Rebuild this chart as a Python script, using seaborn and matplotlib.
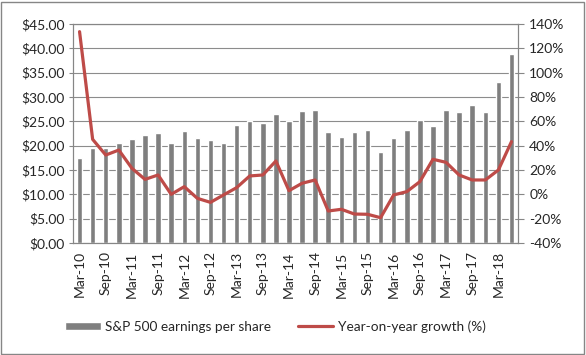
import numpy as np
import pandas as pd
import matplotlib
matplotlib.use("Agg")
import matplotlib.pyplot as plt
from matplotlib.patches import Rectangle
from matplotlib.ticker import FuncFormatter, FixedLocator
import seaborn as sns

quarters = [
    "Mar-10", "Jun-10", "Sep-10", "Dec-10",
    "Mar-11", "Jun-11", "Sep-11", "Dec-11",
    "Mar-12", "Jun-12", "Sep-12", "Dec-12",
    "Mar-13", "Jun-13", "Sep-13", "Dec-13",
    "Mar-14", "Jun-14", "Sep-14", "Dec-14",
    "Mar-15", "Jun-15", "Sep-15", "Dec-15",
    "Mar-16", "Jun-16", "Sep-16", "Dec-16",
    "Mar-17", "Jun-17", "Sep-17", "Dec-17",
    "Mar-18", "Jun-18",
]
eps = [
    17.5, 19.6, 19.6, 20.6, 21.4, 22.2, 22.7, 20.6,
    23.1, 21.6, 21.2, 20.6, 24.3, 25.0, 24.7, 26.6,
    25.0, 27.2, 27.4, 22.9, 21.8, 22.9, 23.3, 18.8,
    21.6, 23.3, 25.3, 24.1, 27.4, 27.0, 28.4, 27.0,
    33.1, 38.9,
]
growth = [
    133.7, 45.2, 32.3, 36.4, 21.4, 12.3, 15.9, 0.0,
    6.3, -3.3, -6.6, -0.5, 5.5, 15.1, 15.9, 27.4,
    3.0, 9.1, 11.8, -13.7, -12.3, -16.2, -16.4, -19.2,
    -0.5, 2.2, 10.4, 28.8, 26.3, 15.9, 11.8, 11.8,
    20.0, 43.3,
]

df = pd.DataFrame({"quarter": quarters, "eps": eps, "growth": growth})
df["pos"] = range(len(df))

sns.set_style("white")
plt.rcParams["font.family"] = ["Lato", "DejaVu Sans"]

grey = "#7f7f7f"
red = "#be4b48"
axis_col = "#868686"

fig = plt.figure(figsize=(5.86, 3.55), dpi=100)
ax = fig.add_axes([0.1246, 0.3155, 0.7594, 0.6169])

sns.barplot(data=df, x="quarter", y="eps", color=grey, width=0.42,
            saturation=1, ax=ax, label="S&P 500 earnings per share")
if ax.get_legend() is not None:
    ax.get_legend().remove()
ax.set_xlim(-0.5, len(df) - 0.5)
ax.set_ylim(0, 45)
ax.set_yticks(np.arange(0, 46, 5))
ax.yaxis.set_major_formatter(FuncFormatter(lambda v, p: f"${v:.2f}"))
ax.grid(axis="y", color="#8c8c8c", linewidth=0.8)
ax.set_axisbelow(True)
ax.set_xlabel("")
ax.set_ylabel("")

label_pos = list(range(0, len(df), 2))
ax.xaxis.set_major_locator(FixedLocator(label_pos))
ax.set_xticklabels([quarters[i] for i in label_pos], rotation=90)
ax.xaxis.set_minor_locator(FixedLocator([i - 0.5 for i in range(0, len(df) + 1, 2)]))
ax.tick_params(axis="x", which="major", length=0, pad=6, labelsize=10)
ax.tick_params(axis="x", which="minor", length=4, color=axis_col, direction="out")
ax.tick_params(axis="y", length=3, color=axis_col, direction="out", labelsize=10, pad=3)

ax2 = ax.twinx()
sns.lineplot(data=df, x="pos", y="growth", color=red, linewidth=2.3, ax=ax2,
             label="Year-on-year growth (%)", legend=False)
ax2.set_ylim(-40, 140)
ax2.set_yticks(np.arange(-40, 141, 20))
ax2.yaxis.set_major_formatter(FuncFormatter(lambda v, p: f"{v:.0f}%"))
ax2.tick_params(axis="y", length=4, color=axis_col, direction="out", labelsize=10, pad=4)
ax2.set_ylabel("")
ax2.set_xlabel("")
ax2.set_xlim(-0.5, len(df) - 0.5)

for a in (ax, ax2):
    for s in a.spines.values():
        s.set_color(axis_col)
        s.set_linewidth(0.8)

h1, l1 = ax.get_legend_handles_labels()
h2, l2 = ax2.get_legend_handles_labels()
fig.legend(h1 + h2, l1 + l2, loc="center", bbox_to_anchor=(0.47, 0.08), ncol=2,
           frameon=False, fontsize=9.8, handlelength=2.6, handleheight=0.6,
           columnspacing=2.0, handletextpad=0.3)

fig.patches.append(Rectangle((0.002, 0.003), 0.995, 0.992, transform=fig.transFigure,
                             fill=False, edgecolor=axis_col, linewidth=1))

fig.savefig("out.png", dpi=100)
